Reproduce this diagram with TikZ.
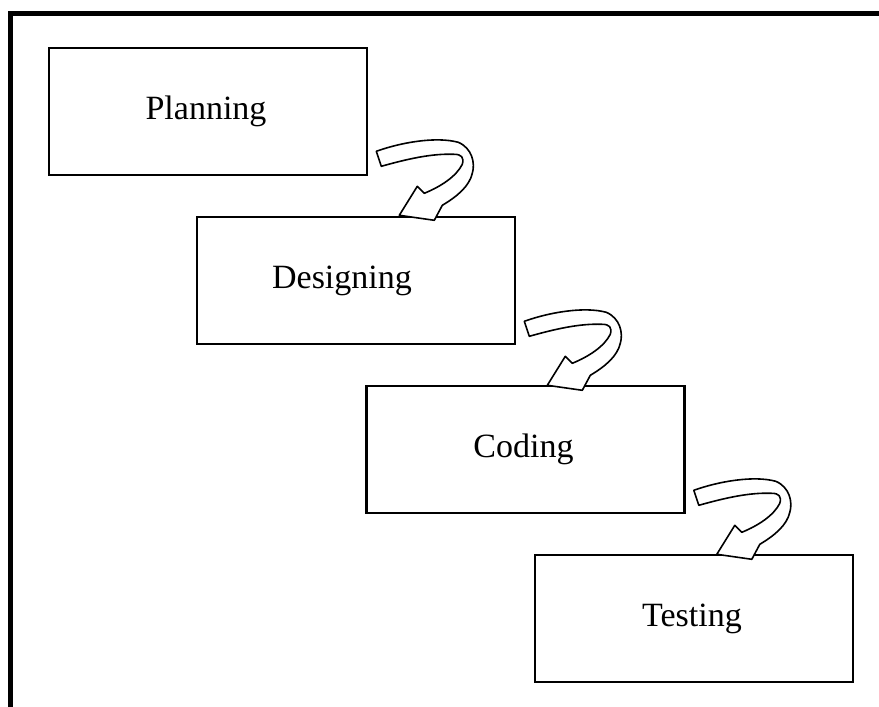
\documentclass[tikz,border=0pt]{standalone}
\usepackage{fontspec}
\setmainfont{Liberation Serif}
\usetikzlibrary{calc}
\begin{document}
\begin{tikzpicture}[x=1pt,y=-1pt,
  stagebox/.style={draw=black,line width=2.6pt,fill=white,minimum width=318pt,minimum height=127pt,inner sep=0pt,font=\fontsize{34}{40}\selectfont},
  frameline/.style={draw=black,line width=5pt},
  bendarrow/.pic={
    \draw[line width=1.6pt,fill=white,line join=round]
      (0,0) .. controls (25,-9) and (60,-15) .. (82,-9)
      .. controls (96,-3) and (99,12) .. (96,22)
      .. controls (93,35) and (81,45) .. (66,54)
      -- (58,69) -- (23,64) -- (41,35) -- (48,42)
      .. controls (65,35) and (80,25) .. (86,13)
      .. controls (88,6) and (85,3) .. (78,3)
      .. controls (55,2) and (30,8) .. (5,15) -- cycle;
  }]
\useasboundingbox (0,0) rectangle (879,707);
\clip (0,0) rectangle (879,707);
\fill[white] (0,0) rectangle (879,707);
\draw[frameline] (10,720) -- (10,13) -- (890,13);

\node[stagebox] (p) at (208,111.5) {\raisebox{-2pt}{\hspace*{-4pt}Planning}};
\node[stagebox] (d) at (356,280.5) {\raisebox{-2pt}{\hspace*{-28pt}Designing}};
\node[stagebox] (c) at (525.5,449.5) {\raisebox{-2pt}{\hspace*{-4pt}Coding}};
\node[stagebox] (t) at (694,618.5) {\raisebox{-2pt}{\hspace*{-4pt}Testing}};

\pic at ($(p.south east)+(8,-25)$) {bendarrow};
\pic at ($(d.south east)+(8,-24)$) {bendarrow};
\pic at ($(c.south east)+(8,-24)$) {bendarrow};
\end{tikzpicture}
\end{document}
